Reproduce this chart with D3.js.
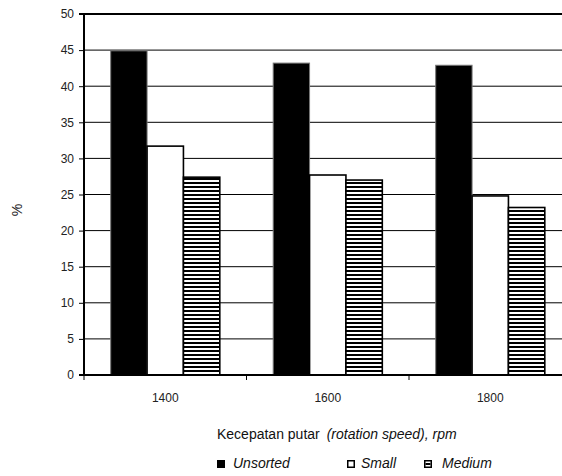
<!DOCTYPE html>
<html>
<head>
<meta charset="utf-8">
<script src="https://cdn.jsdelivr.net/npm/d3@7/dist/d3.min.js"></script>
<style>
  html, body { margin: 0; padding: 0; background: #fff; overflow: hidden; }
  svg { display: block; font-family: "Liberation Sans", Arial, sans-serif; }
</style>
</head>
<body>
<svg id="chart" width="562" height="476"></svg>
<script>
// Rotation speed groups and the share (%) of each sorting class
const categories = ["1400", "1600", "1800"];
const seriesNames = ["Unsorted", "Small", "Medium"];
const unsorted = [44.9, 43.2, 42.9];
const small = [31.7, 27.7, 24.8];
const medium = [27.4, 27.0, 23.2];
const yTicks = [0, 5, 10, 15, 20, 25, 30, 35, 40, 45, 50];

const svg = d3.select("#chart");
const margin = { left: 84, top: 14 };
const plotW = 487.5, plotH = 361;

// stripe fill for the Medium class
const defs = svg.append("defs");
const pat = defs.append("pattern")
  .attr("id", "stripes")
  .attr("patternUnits", "userSpaceOnUse")
  .attr("width", 8).attr("height", 4);
pat.append("rect").attr("width", 8).attr("height", 4).attr("fill", "#fff");
pat.append("rect").attr("y", 0).attr("width", 8).attr("height", 2).attr("fill", "#000");

const g = svg.append("g").attr("transform", `translate(${margin.left},${margin.top})`);

const x0 = d3.scaleBand().domain(categories).range([0, plotW]).paddingInner(0).paddingOuter(0);
const x1 = d3.scaleBand().domain(seriesNames).range([26.7, x0.bandwidth() - 26.7]).padding(0);
const y = d3.scaleLinear().domain([0, 50]).range([plotH, 0]);

// horizontal gridlines
g.append("g").selectAll("line").data(yTicks.filter(t => t > 0 && t < 50)).join("line")
  .attr("x1", 0).attr("x2", plotW)
  .attr("y1", d => y(d)).attr("y2", d => y(d))
  .attr("stroke", "#000").attr("stroke-width", 1);

// bars
const rows = categories.map((c, i) => ({
  cat: c,
  vals: [
    { key: "Unsorted", v: unsorted[i] },
    { key: "Small", v: small[i] },
    { key: "Medium", v: medium[i] }
  ]
}));
const fills = { Unsorted: "#000", Small: "#fff", Medium: "url(#stripes)" };
const strokes = { Unsorted: "#777", Small: "#000", Medium: "#000" };

g.append("g").selectAll("g").data(rows).join("g")
  .attr("transform", d => `translate(${x0(d.cat)},0)`)
  .selectAll("rect").data(d => d.vals).join("rect")
  .attr("x", d => x1(d.key))
  .attr("width", x1.bandwidth())
  .attr("y", d => y(d.v))
  .attr("height", d => plotH - y(d.v))
  .attr("fill", d => fills[d.key])
  .attr("stroke", d => strokes[d.key])
  .attr("stroke-width", d => d.key === "Unsorted" ? 1 : 1.6);

// top border of the plot
g.append("line").attr("x1", 0).attr("x2", plotW).attr("y1", 0).attr("y2", 0)
  .attr("stroke", "#000").attr("stroke-width", 2);

// y axis
const yAxis = d3.axisLeft(y).tickValues(yTicks).tickSize(5).tickPadding(5);
const ya = g.append("g").call(yAxis);
ya.select(".domain").attr("stroke-width", 2).attr("d", `M-5,${plotH}H0V0H-5`);
ya.selectAll(".tick line").attr("stroke-width", 1);
ya.selectAll(".tick text").attr("font-size", 12).attr("fill", "#222")
  .style("font-family", "'Liberation Sans', Arial, sans-serif");

// x axis with ticks between groups
const xa = g.append("g").attr("transform", `translate(0,${plotH})`);
xa.append("line").attr("x1", 0).attr("x2", plotW).attr("stroke", "#000").attr("stroke-width", 2);
xa.selectAll(".bt").data(categories).join("line").attr("class", "bt")
  .attr("x1", d => x0(d)).attr("x2", d => x0(d))
  .attr("y1", 0).attr("y2", 5).attr("stroke", "#000").attr("stroke-width", 1);
xa.selectAll("text").data(categories).join("text")
  .attr("x", d => x0(d) + x0.bandwidth() / 2)
  .attr("y", 27)
  .attr("text-anchor", "middle")
  .attr("font-size", 12).attr("fill", "#222")
  .text(d => d);

// y axis title
svg.append("text")
  .attr("transform", "translate(22,210) rotate(-90)")
  .attr("text-anchor", "middle")
  .attr("font-size", 14).attr("fill", "#222")
  .text("%");

// x axis title
const xt = svg.append("text").attr("x", 217).attr("y", 439)
  .attr("font-size", 14).attr("fill", "#111");
xt.append("tspan").text("Kecepatan putar ");
xt.append("tspan").attr("font-style", "italic").attr("dx", 3).text("(rotation speed), rpm");

// legend
const legendItems = [
  { key: "Unsorted", sx: 217, tx: 233 },
  { key: "Small", sx: 347, tx: 361 },
  { key: "Medium", sx: 424, tx: 442 }
];
const lg = svg.append("g");
legendItems.forEach(it => {
  if (it.key === "Unsorted") {
    lg.append("rect").attr("x", it.sx).attr("y", 460).attr("width", 8).attr("height", 8).attr("fill", "#000");
  } else {
    lg.append("rect").attr("x", it.sx + 0.75).attr("y", 460.75).attr("width", 6.5).attr("height", 6.5)
      .attr("fill", "#fff").attr("stroke", "#000").attr("stroke-width", 1.5);
    if (it.key === "Medium") {
      lg.append("rect").attr("x", it.sx + 1.5).attr("y", 463).attr("width", 5).attr("height", 2).attr("fill", "#000");
    }
  }
  lg.append("text").attr("x", it.tx).attr("y", 468)
    .attr("font-size", 14).attr("font-style", "italic").attr("fill", "#111")
    .text(it.key);
});
</script>
</body>
</html>
